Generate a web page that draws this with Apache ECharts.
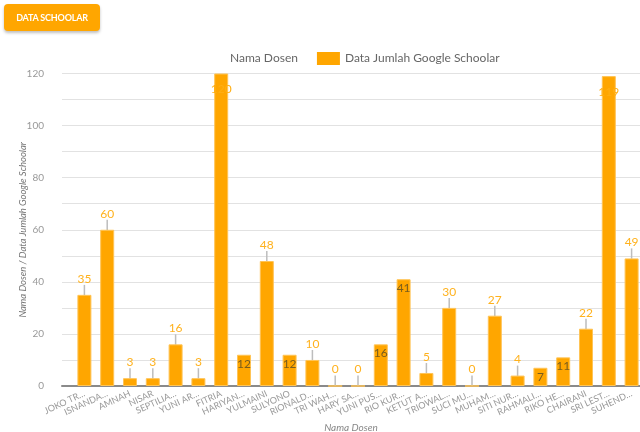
<!DOCTYPE html>
<html>
<head>
<meta charset="utf-8">
<script src="https://cdn.jsdelivr.net/npm/echarts@6/dist/echarts.min.js"></script>
<style>
  html, body { margin: 0; padding: 0; background: #fff; }
  #wrap { position: relative; width: 640px; height: 432px; overflow: hidden; }
  #chart { position: absolute; left: 0; top: 0; width: 640px; height: 432px; }
  #btn { position: absolute; left: 4px; top: 4px; width: 96px; height: 27px; background: #ffa600;
         border-radius: 4px; box-shadow: 0 2px 3px rgba(0,0,0,0.25); color: #fff; font-family: Lato, sans-serif;
         font-weight: bold; font-size: 9px; line-height: 27px; text-align: center; z-index: 2; letter-spacing: -0.2px; }
</style>
</head>
<body>
<div id="wrap">
  <div id="chart"></div>
  <div id="btn">DATA SCHOOLAR</div>
</div>
<script>
const categories = ['JOKO TR…', 'ISNANDA…', 'AMNAH', 'NISAR', 'SEPTILIA…', 'YUNI AR…', 'FITRIA', 'HARIYAN…',
  'YULMAINI', 'SULYONO', 'RIONALD…', 'TRI WAH…', 'HARY SA…', 'YUNI PUS…', 'RIO KUR…', 'KETUT A…',
  'TRIOWAL…', 'SUCI MU…', 'MUHAM…', 'SITI NUR…', 'RAHMALI…', 'RIKO HE…', 'CHAIRANI', 'SRI LEST…', 'SUHEND…'];
const scholarCounts = [35, 60, 3, 3, 16, 3, 120, 12, 48, 12, 10, 0, 0, 16, 41, 5, 30, 0, 27, 4, 7, 11, 22, 119, 49];
const seriesName = 'Data Jumlah Google Schoolar';
const categoryName = 'Nama Dosen';
const yAxisTitle = 'Nama Dosen / Data Jumlah Google Schoolar';
const yMin = 0, yMax = 120, yStep = 10;

// style: which labels sit inside the bar
const insideDark = [7, 9, 13, 14, 20, 21];
const insideFaint = [6, 23];
const FONT = 'Lato, sans-serif';

const barData = scholarCounts.map((v, i) => {
  if (insideDark.includes(i)) return { value: v, label: { position: 'insideTop', distance: 3, color: '#7a5d1c' } };
  if (insideFaint.includes(i)) return { value: v, label: { position: 'insideTop', distance: 10, color: '#ffae12' } };
  return v;
});

const chart = echarts.init(document.getElementById('chart'), null, { renderer: 'canvas' });
chart.setOption({
  animation: false,
  textStyle: { fontFamily: FONT },
  legend: {
    left: 197, top: 47, itemWidth: 23, itemHeight: 13, itemGap: 19,
    itemStyle: { borderWidth: 0 },
    textStyle: { color: '#666', fontSize: 12, fontFamily: FONT },
    data: [{ name: categoryName, icon: 'none' }, { name: seriesName, icon: 'rect' }]
  },
  grid: [
    { left: 62, right: 0, top: 73.5, bottom: 46, outerBoundsMode: 'none', containLabel: false },
    { left: 73, right: -3, top: 73.5, bottom: 46, outerBoundsMode: 'none', containLabel: false }
  ],
  xAxis: [
    { gridIndex: 0, type: 'value', min: 0, max: 1,
      axisLine: { show: true, lineStyle: { color: '#8a8a8a', width: 2 } },
      axisTick: { show: false }, axisLabel: { show: false }, splitLine: { show: false },
      name: categoryName, nameLocation: 'middle', nameGap: 37, nameMoveOverlap: false,
      nameTextStyle: { color: '#888', fontSize: 10, fontStyle: 'italic', fontFamily: FONT } },
    { gridIndex: 1, type: 'category', data: categories,
      axisLine: { show: false }, axisTick: { show: false },
      axisLabel: { interval: 0, rotate: 25, color: '#999', fontSize: 9, margin: 7, fontFamily: FONT } }
  ],
  yAxis: [
    { gridIndex: 0, type: 'value', min: yMin, max: yMax, interval: yStep,
      axisLine: { show: false }, axisTick: { show: false },
      splitLine: { lineStyle: { color: '#e2e2e2', width: 1 } },
      axisLabel: { color: '#999', fontSize: 10, margin: 18, fontFamily: FONT,
        formatter: v => (v % 20 === 0 ? String(v) : '') },
      name: yAxisTitle, nameLocation: 'middle', nameGap: 34, nameMoveOverlap: false,
      nameTextStyle: { color: '#777', fontSize: 9.5, fontStyle: 'italic', fontFamily: FONT } },
    { gridIndex: 1, type: 'value', min: yMin, max: yMax, interval: yStep, show: false,
      splitLine: { show: false } }
  ],
  series: [
    { name: categoryName, type: 'line', xAxisIndex: 1, yAxisIndex: 1, data: [] },
    { name: seriesName, type: 'bar', xAxisIndex: 1, yAxisIndex: 1, data: barData, barWidth: 14,
      itemStyle: { color: '#ffa600', borderColor: '#ffc456', borderWidth: 1 },
      label: { show: true, position: 'top', distance: 0, color: '#ffb21e', fontSize: 12, fontFamily: FONT },
      labelLayout: p => (insideDark.includes(p.dataIndex) || insideFaint.includes(p.dataIndex)) ? {} : { dy: -10 },
      labelLine: { show: true, lineStyle: { color: '#bdbdbd', width: 1.5 } }
    }
  ]
});
</script>
</body>
</html>
